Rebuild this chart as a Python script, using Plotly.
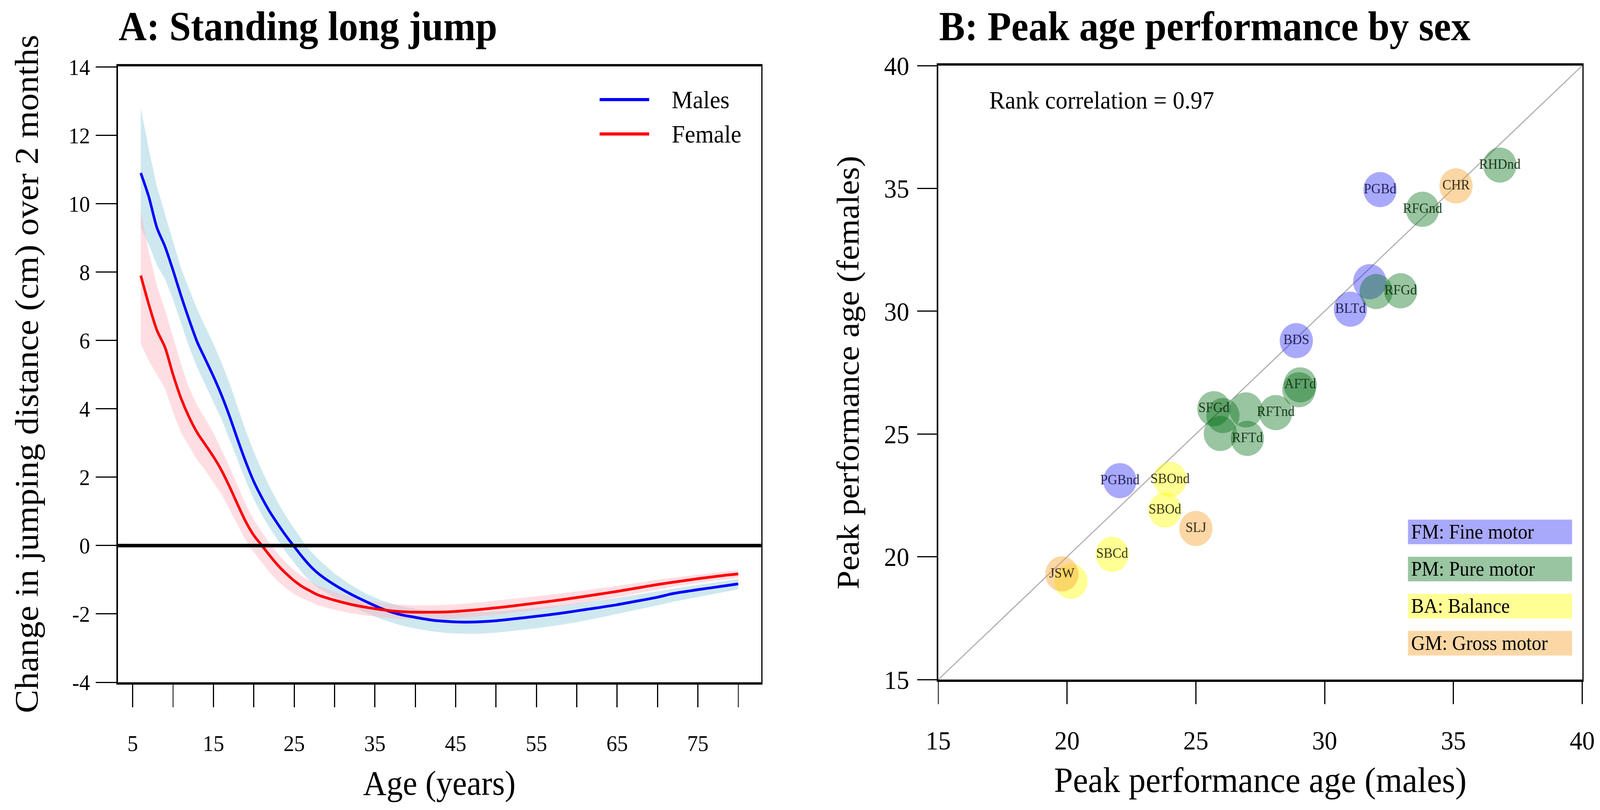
import plotly.graph_objects as go
from plotly.subplots import make_subplots

# ---- panel A: change in standing long jump by age ----
age = [6, 7, 8, 9, 10, 11, 12, 13, 14, 15, 16, 17, 18, 19, 20, 21, 22, 23, 24, 25, 26, 27, 28,
       30, 32, 34, 36, 38, 40, 42, 44, 46, 48, 50, 52, 55, 58, 60, 62, 65, 68, 70, 72, 75, 78, 80]
male_change = [10.9, 10.2, 9.3, 8.75, 8.05, 7.3, 6.6, 5.95, 5.45, 4.95, 4.4, 3.78, 3.1, 2.45, 1.87,
               1.4, 0.98, 0.62, 0.28, -0.03, -0.33, -0.6, -0.82, -1.15, -1.42, -1.65, -1.86, -2.01,
               -2.1, -2.18, -2.22, -2.24, -2.23, -2.2, -2.15, -2.07, -1.98, -1.91, -1.84, -1.73,
               -1.6, -1.51, -1.4, -1.29, -1.19, -1.12]
male_upper = [12.8, 11.6, 10.5, 9.7, 8.9, 8.1, 7.5, 6.9, 6.4, 5.9, 5.35, 4.75, 4.05, 3.35, 2.75,
              2.2, 1.7, 1.25, 0.85, 0.5, 0.15, -0.15, -0.4, -0.82, -1.15, -1.42, -1.62, -1.76,
              -1.85, -1.92, -1.95, -1.96, -1.95, -1.93, -1.89, -1.82, -1.75, -1.69, -1.63, -1.53,
              -1.42, -1.34, -1.26, -1.15, -1.05, -0.98]
male_lower = [9.3, 8.8, 8.2, 7.8, 7.2, 6.5, 5.8, 5.2, 4.7, 4.2, 3.7, 3.1, 2.5, 1.9, 1.35,
              0.9, 0.5, 0.15, -0.2, -0.5, -0.8, -1.05, -1.25, -1.52, -1.77, -1.98, -2.17, -2.32,
              -2.43, -2.51, -2.56, -2.58, -2.58, -2.55, -2.5, -2.42, -2.32, -2.24, -2.15, -2.0,
              -1.85, -1.75, -1.64, -1.5, -1.37, -1.28]
female_change = [7.9, 7.05, 6.3, 5.8, 5.0, 4.3, 3.75, 3.3, 2.95, 2.6, 2.2, 1.72, 1.2, 0.7, 0.3,
                 0.0, -0.3, -0.58, -0.82, -1.03, -1.2, -1.33, -1.45, -1.6, -1.72, -1.81, -1.88,
                 -1.93, -1.95, -1.95, -1.94, -1.91, -1.87, -1.82, -1.77, -1.68, -1.59, -1.52,
                 -1.45, -1.34, -1.22, -1.14, -1.07, -0.97, -0.88, -0.83]
female_upper = [9.8, 8.6, 7.6, 6.9, 6.1, 5.3, 4.6, 4.1, 3.7, 3.3, 2.8, 2.3, 1.75, 1.2, 0.75,
                0.4, 0.05, -0.25, -0.5, -0.72, -0.9, -1.05, -1.18, -1.35, -1.5, -1.6, -1.68,
                -1.73, -1.75, -1.75, -1.73, -1.7, -1.66, -1.61, -1.56, -1.48, -1.4, -1.34,
                -1.28, -1.18, -1.07, -1.0, -0.94, -0.85, -0.77, -0.72]
female_lower = [5.9, 5.4, 5.0, 4.6, 3.9, 3.3, 2.9, 2.5, 2.2, 1.85, 1.5, 1.05, 0.6, 0.15, -0.2,
                -0.5, -0.8, -1.05, -1.25, -1.42, -1.55, -1.65, -1.75, -1.88, -1.98, -2.05, -2.1,
                -2.14, -2.16, -2.16, -2.14, -2.11, -2.07, -2.02, -1.97, -1.88, -1.78, -1.71,
                -1.63, -1.51, -1.38, -1.29, -1.2, -1.1, -1.0, -0.95]
age_ticks = [5, 10, 15, 20, 25, 30, 35, 40, 45, 50, 55, 60, 65, 70, 75, 80]
age_tick_labels = ["5", "", "15", "", "25", "", "35", "", "45", "", "55", "", "65", "", "75", ""]
change_ticks = [-4, -2, 0, 2, 4, 6, 8, 10, 12, 14]
change_tick_labels = ["-4", "-2", "0", "2", "4", "6", "8", "10", "12", "14"]

# ---- panel B: peak performance age, males vs females ----
fm_tests = ["PGBd", "", "BLTd", "BDS", "PGBnd"]
fm_males = [32.15, 31.75, 31.0, 28.9, 22.05]
fm_females = [34.95, 31.2, 30.08, 28.8, 23.1]

pm_tests = ["RHDnd", "RFGnd", "", "RFGd", "AFTd", "", "SFGd", "", "", "RFTnd", "", "RFTd"]
pm_males = [36.8, 33.8, 32.0, 32.95, 29.05, 29.0, 25.7, 26.05, 26.95, 28.1, 25.95, 27.0]
pm_females = [35.95, 34.15, 30.8, 30.83, 27.0, 26.8, 26.03, 25.75, 25.98, 25.87, 25.02, 24.82]

ba_tests = ["SBOnd", "SBOd", "SBCd", ""]
ba_males = [24.0, 23.8, 21.75, 20.15]
ba_females = [23.15, 21.9, 20.1, 19.0]

gm_tests = ["CHR", "SLJ", "JSW"]
gm_males = [35.1, 25.0, 19.8]
gm_females = [35.1, 21.15, 19.3]

group_labels = ["FM: Fine motor", "PM: Pure motor", "BA: Balance", "GM: Gross motor"]
peak_ticks = [15, 20, 25, 30, 35, 40]
identity_line = [15, 40]
rank_corr = 0.97

FONT = "Liberation Serif"
W, H = 4328, 2074
BLUE_B = "rgba(30,30,245,0.38)"
GREEN_B = "rgba(0,110,20,0.40)"
YELLOW_B = "rgba(255,255,0,0.42)"
ORANGE_B = "rgba(245,160,40,0.42)"

fig = make_subplots(rows=1, cols=2)

# confidence bands
fig.add_trace(go.Scatter(x=age + age[::-1], y=male_upper + male_lower[::-1], fill="toself",
                         fillcolor="rgba(173,216,230,0.6)", line=dict(width=0),
                         hoverinfo="skip"), row=1, col=1)
fig.add_trace(go.Scatter(x=age + age[::-1], y=female_upper + female_lower[::-1], fill="toself",
                         fillcolor="rgba(255,182,193,0.45)", line=dict(width=0),
                         hoverinfo="skip"), row=1, col=1)
fig.add_trace(go.Scatter(x=age, y=male_change, mode="lines", name="Males",
                         line=dict(color="#0000ff", width=7, shape="spline", smoothing=0.8)),
              row=1, col=1)
fig.add_trace(go.Scatter(x=age, y=female_change, mode="lines", name="Female",
                         line=dict(color="#ff0000", width=7, shape="spline", smoothing=0.8)),
              row=1, col=1)
fig.add_hline(y=0, line=dict(color="black", width=9), row=1, col=1)

# identity line and bubbles
fig.add_trace(go.Scatter(x=identity_line, y=identity_line, mode="lines",
                         line=dict(color="#b0b0b0", width=3), hoverinfo="skip"), row=1, col=2)
for tests, xs, ys, col, tcol in [
    (fm_tests, fm_males, fm_females, BLUE_B, "#22225e"),
    (pm_tests, pm_males, pm_females, GREEN_B, "#1c3a1c"),
    (ba_tests, ba_males, ba_females, YELLOW_B, "#3a3a14"),
    (gm_tests, gm_males, gm_females, ORANGE_B, "#3c2c14"),
]:
    fig.add_trace(go.Scatter(x=xs, y=ys, text=tests, mode="markers+text",
                             textposition="middle center",
                             textfont=dict(family=FONT, size=36, color=tcol),
                             marker=dict(size=90, color=col, line=dict(width=0)),
                             cliponaxis=False), row=1, col=2)

axis_common = dict(showgrid=False, zeroline=False, showline=True, mirror=True,
                   linecolor="black", ticks="outside", tickcolor="black", tickwidth=3,
                   automargin=False)

fig.update_xaxes(domain=[319 / W, 2059 / W], range=[3.17, 82.84], tickvals=age_ticks,
                 ticktext=age_tick_labels, ticklen=58, linewidth=6,
                 tickfont=dict(size=58), ticklabelstandoff=42, **axis_common, row=1, col=1)
fig.update_yaxes(domain=[327 / H, 1904 / H], range=[-4, 14.02], tickvals=change_ticks,
                 ticktext=change_tick_labels, ticklen=56, linewidth=4,
                 tickfont=dict(size=58), ticklabelstandoff=4, **axis_common, row=1, col=1)
fig.update_xaxes(domain=[2538 / W, 4280 / W], range=[15, 40], tickvals=peak_ticks,
                 ticklen=57, linewidth=6, tickfont=dict(size=68), ticklabelstandoff=34,
                 **axis_common, row=1, col=2)
fig.update_yaxes(domain=[334 / H, 1906 / H], range=[15, 40], tickvals=peak_ticks,
                 ticklen=53, linewidth=4, tickfont=dict(size=68), ticklabelstandoff=8,
                 **axis_common, row=1, col=2)


def text(s, x, y, size, bold=False, xanchor="center", angle=0, **kw):
    fig.add_annotation(text="<b>%s</b>" % s if bold else s, x=x, y=y, xref="paper",
                       yref="paper", xanchor=xanchor, yanchor="middle", showarrow=False,
                       textangle=angle, font=dict(family=FONT, size=size, color="black"), **kw)


text("A: Standing long jump", 319 / W, 1 - 67 / H, 105, bold=True, xanchor="left")
text("B: Peak age performance by sex", 2538 / W, 1 - 67 / H, 105, bold=True, xanchor="left")
text("Age (years)", 1188 / W, 1 - 2005 / H, 88)
text("Change in jumping distance (cm) over 2 months", 72 / W, 1 - 958 / H, 90, angle=-90)
text("Peak performance age (males)", 3409 / W, 1 - 1997 / H, 92)
text("Peak performance age (females)", 2293 / W, 1 - 954 / H, 86, angle=-90)
text("Rank correlation = %.2f" % rank_corr, 2674 / W, 1 - 257 / H, 64, xanchor="left")

# legend for panel A
for i, (name, color) in enumerate([("Males", "#0000ff"), ("Female", "#ff0000")]):
    yy = 1 - (255 + 88 * i) / H
    fig.add_shape(type="line", xref="paper", yref="paper", x0=1622 / W, x1=1756 / W,
                  y0=yy, y1=yy, line=dict(color=color, width=8))
    text(name, 1815 / W, yy, 64, xanchor="left")

# legend boxes for panel B
for i, (lab, col) in enumerate(zip(group_labels, [BLUE_B, GREEN_B, YELLOW_B, ORANGE_B])):
    yy = 1 - (1362 + 95 * i) / H
    text(lab, 3808 / W, yy, 52, xanchor="left", bgcolor=col, width=427, height=46,
         borderpad=8, align="left")

fig.update_layout(width=W, height=H, margin=dict(l=0, r=0, t=0, b=0), showlegend=False,
                  paper_bgcolor="white", plot_bgcolor="white",
                  font=dict(family=FONT, color="black"))

# fit the fixed-size figure onto whatever viewport the page gets
fit_js = """
var gd = document.getElementById('{plot_id}');
document.documentElement.style.overflow = 'hidden';
document.body.style.margin = '0';
document.body.style.overflow = 'hidden';
var sx = window.innerWidth / %d, sy = window.innerHeight / %d;
gd.style.transformOrigin = '0 0';
gd.style.transform = 'scale(' + sx + ',' + sy + ')';
""" % (W, H)

fig.write_html("out.html", post_script=fit_js, config={"displayModeBar": False})
